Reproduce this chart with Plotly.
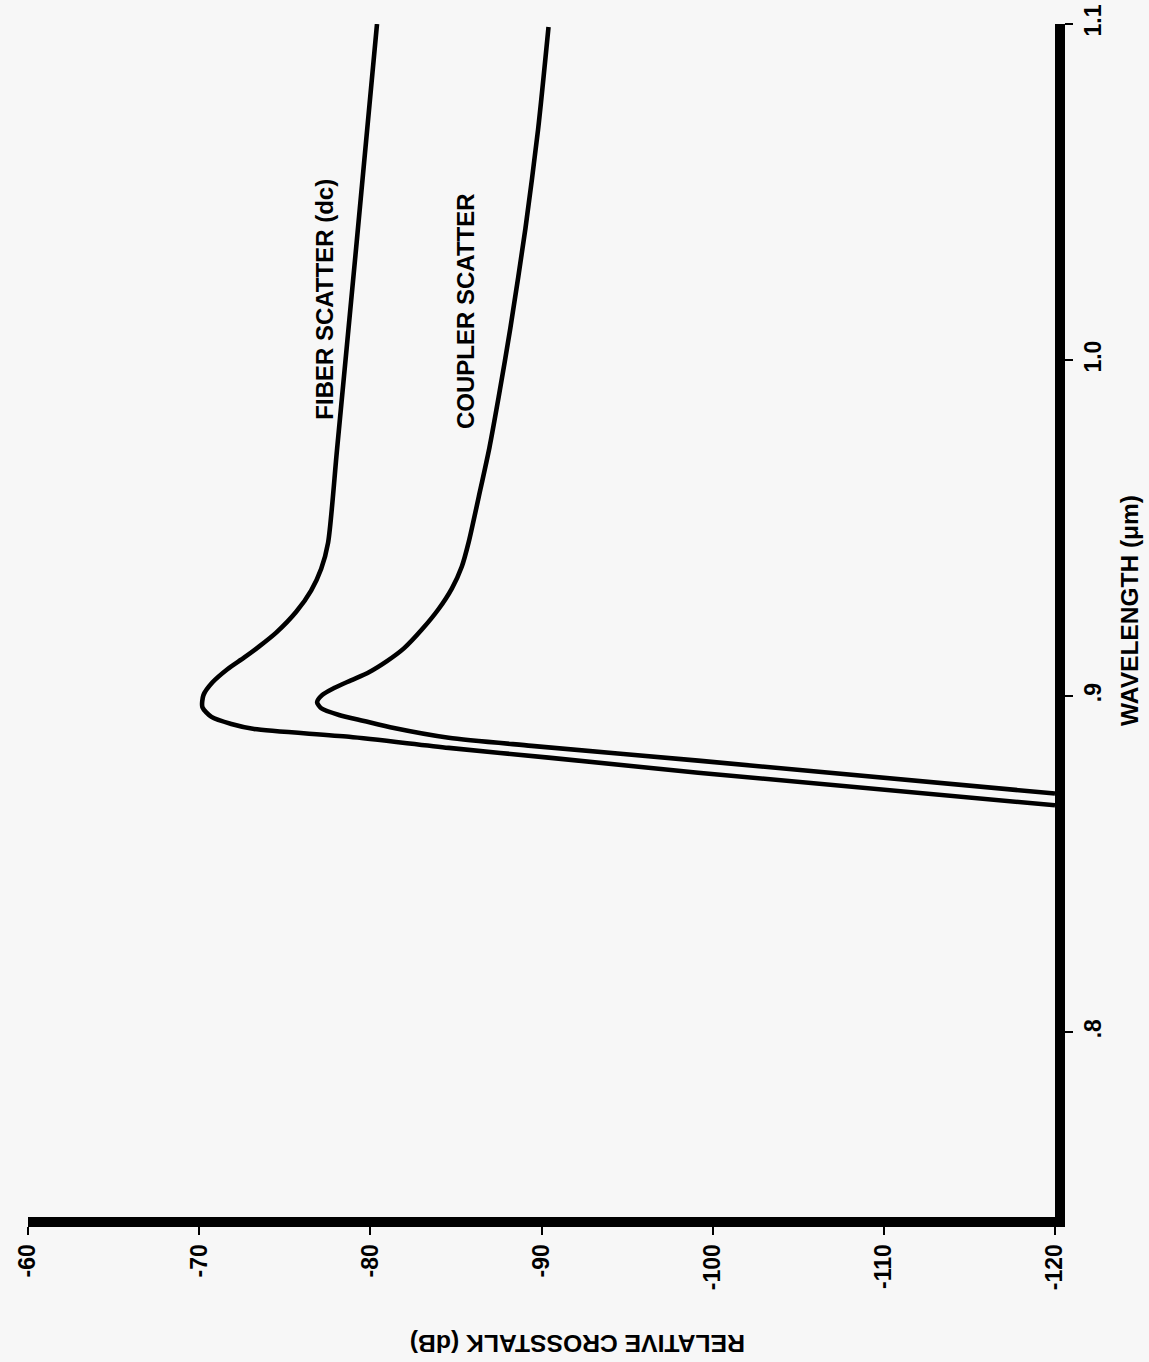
import plotly.graph_objects as go

# Crosstalk spectra: wavelength (um) versus relative crosstalk (dB)
fiber_wavelength = [1.1000, 1.0328, 0.9737, 0.9456, 0.9379, 0.9314, 0.9251, 0.9189,
                    0.9148, 0.9115, 0.9080, 0.9041, 0.9003, 0.8967, 0.8938, 0.8917,
                    0.8902, 0.8879, 0.8846, 0.8817, 0.8772, 0.8675]
fiber_crosstalk = [-80.39, -79.16, -78.06, -77.53, -77.13, -76.54, -75.67, -74.50,
                   -73.51, -72.64, -71.65, -70.78, -70.25, -70.19, -70.72, -71.88,
                   -73.22, -78.76, -84.58, -90.41, -99.15, -120.0]

coupler_wavelength = [1.0991, 1.0686, 1.0391, 1.0095, 0.9888, 0.9740, 0.9592, 0.9459,
                      0.9385, 0.9320, 0.9260, 0.9198, 0.9142, 0.9104, 0.9071, 0.9047,
                      0.9024, 0.9003, 0.8982, 0.8964, 0.8944, 0.8926, 0.8905, 0.8876,
                      0.8852, 0.8808, 0.8710]
coupler_crosstalk = [-90.41, -89.80, -89.06, -88.18, -87.49, -86.96, -86.33, -85.75,
                     -85.34, -84.76, -84.00, -83.01, -81.96, -80.97, -79.92, -78.87,
                     -77.88, -77.18, -76.89, -77.13, -78.17, -79.63, -81.38, -84.58,
                     -89.42, -99.15, -120.0]

crosstalk_ticks = [-60, -70, -80, -90, -100, -110, -120]
wavelength_ticks = [0.8, 0.9, 1.0, 1.1]
wavelength_labels = [".8", ".9", "1.0", "1.1"]

FONT = "Liberation Sans, Arial, sans-serif"
PAPER = "#f7f7f7"

fig = go.Figure()
for wl, db in [(fiber_wavelength, fiber_crosstalk), (coupler_wavelength, coupler_crosstalk)]:
    fig.add_trace(go.Scatter(
        x=db, y=wl, mode="lines",
        line=dict(color="black", width=4.6, shape="spline", smoothing=0.7),
        hoverinfo="skip", showlegend=False,
    ))

axis_common = dict(
    showline=True, linecolor="black", linewidth=10,
    ticks="outside", ticklen=8, tickwidth=2, tickcolor="black",
    showgrid=False, zeroline=False, automargin=False,
    tickfont=dict(family=FONT, size=23, color="black", weight="bold"),
    tickangle=-90,
)

fig.update_layout(
    width=1149, height=1362,
    margin=dict(l=28, r=94, t=24, b=145),
    paper_bgcolor=PAPER, plot_bgcolor=PAPER,
    xaxis=dict(range=[-60, -120], tickvals=crosstalk_ticks,
               ticktext=[str(v) for v in crosstalk_ticks], **axis_common),
    yaxis=dict(range=[0.745, 1.1], side="right", tickvals=wavelength_ticks,
               ticktext=wavelength_labels, ticklabelstandoff=0, **axis_common),
    annotations=[
        dict(text="<b>RELATIVE CROSSTALK (dB)</b>", xref="paper", yref="paper",
             x=0.535, y=-0.1056, xanchor="center", yanchor="middle",
             textangle=180, showarrow=False,
             font=dict(family=FONT, size=24.7, color="black")),
        dict(text="<b>WAVELENGTH (μm)</b>", xref="paper", yref="paper",
             x=1.072, y=0.5088, xanchor="center", yanchor="middle",
             textangle=-90, showarrow=False,
             font=dict(family=FONT, size=24.5, color="black")),
        dict(text="<b>FIBER SCATTER (dc)</b>", xref="x", yref="y",
             x=-77.30, y=1.018, xanchor="center", yanchor="middle",
             textangle=-90, showarrow=False,
             font=dict(family=FONT, size=24, color="black")),
        dict(text="<b>COUPLER SCATTER</b>", xref="x", yref="y",
             x=-85.57, y=1.0145, xanchor="center", yanchor="middle",
             textangle=-90, showarrow=False,
             font=dict(family=FONT, size=24, color="black")),
    ],
)

fig.write_html("out.html")
